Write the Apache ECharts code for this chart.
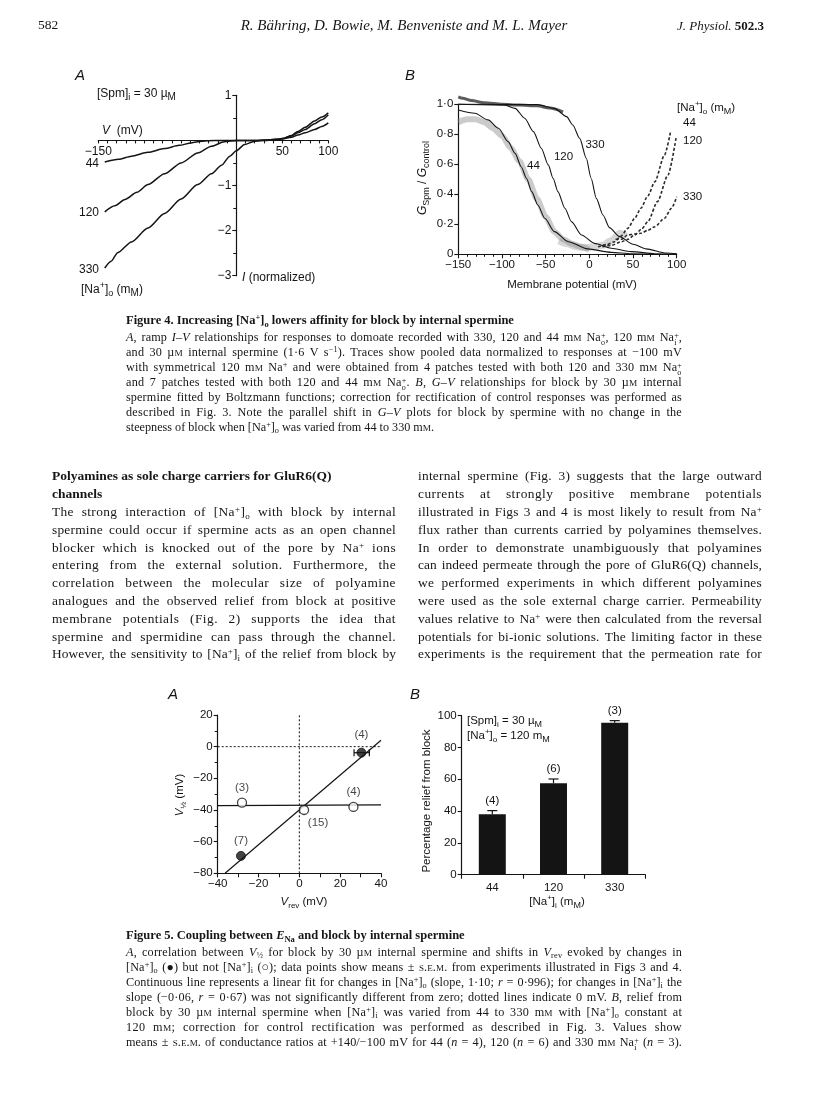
<!DOCTYPE html>
<html>
<head>
<meta charset="utf-8">
<script src="https://cdn.jsdelivr.net/npm/echarts@6.0.0/dist/echarts.min.js"></script>
<style>
html,body{margin:0;padding:0;background:#fff;}
#page{position:relative;width:816px;height:1110px;overflow:hidden;background:#fff;}
#chart{position:absolute;left:0;top:0;width:816px;height:1110px;}
#text{position:absolute;left:0;top:0;width:816px;height:1110px;}
.ln{position:absolute;white-space:nowrap;font-family:"Liberation Serif","Times New Roman",serif;color:#161616;}
.ln sup{font-size:0.68em;vertical-align:0.45em;line-height:0;}
.ln sub{font-size:0.68em;vertical-align:-0.3em;line-height:0;}
.ln .st{display:inline-block;font-size:0.66em;line-height:0.78em;vertical-align:-0.42em;}
.ln .st span{display:block;}
.ln .sc{font-size:0.76em;}
.ln .scs{font-variant:small-caps;}
</style>
</head>
<body>
<div id="page"><div id="chart"></div><div id="text"></div></div>
<script>
// ---------------- DATA ----------------
// Fig 4A: ramp I-V relationships, [V (mV), I (normalized)]
const ivNa44  = [[-143,-0.48],[-128,-0.42],[-114,-0.35],[-96,-0.265],[-78,-0.18],[-62,-0.11],[-49,-0.055],[-38,-0.02],[-31,-0.005],[-15,0],[0,0],[20,0],[35,0.01],[45,0.025],[52,0.05],[60,0.11],[67,0.20],[75,0.29],[85,0.43],[93,0.52],[100,0.61]];
const ivNa120 = [[-143,-1.585],[-132,-1.45],[-121,-1.31],[-108,-1.15],[-96,-0.98],[-78,-0.74],[-60,-0.50],[-42,-0.28],[-27,-0.13],[-13,-0.03],[0,0],[20,0],[35,0.01],[45,0.025],[52,0.05],[60,0.1],[67,0.17],[75,0.24],[85,0.37],[93,0.46],[100,0.57]];
const ivNa330 = [[-143,-2.83],[-136,-2.68],[-129,-2.49],[-114,-2.25],[-96,-1.94],[-78,-1.62],[-60,-1.30],[-42,-0.98],[-27,-0.74],[-16,-0.55],[-7,-0.35],[0,-0.23],[9,-0.09],[20,-0.02],[31,0],[40,0.01],[50,0.03],[60,0.07],[67,0.12],[75,0.17],[85,0.24],[93,0.31],[100,0.39]];
const ivLabels = ['44','120','330'];
const ivXRange = [-150, 100];
const ivYRange = [-3, 1];

// Fig 4B: Boltzmann fits, [V (mV), Gspm/Gcontrol]
const fitNa44  = [[-150,0.962],[-131,0.94],[-116,0.896],[-104,0.84],[-93,0.751],[-85,0.673],[-78,0.584],[-72,0.507],[-66,0.418],[-59,0.329],[-51,0.24],[-40,0.151],[-24,0.084],[-2,0.036],[25,0.013],[48,0.004],[70,0.001]];
const fitNa120 = [[-150,1.0],[-97,0.995],[-85,0.973],[-74,0.907],[-64,0.818],[-55,0.707],[-47,0.596],[-41.5,0.507],[-36,0.418],[-28,0.307],[-20.5,0.218],[-9,0.129],[6,0.073],[25,0.04],[48,0.018],[75,0.004],[100,0.001]];
const fitNa330 = [[-150,1.0],[-59,0.998],[-40,0.973],[-26,0.918],[-19,0.862],[-11,0.773],[-3.5,0.64],[2,0.507],[8,0.373],[15.6,0.262],[23,0.178],[34.6,0.118],[50,0.067],[65,0.036],[88,0.009],[100,0.004]];
const dataTop    = [[-150,1.05],[-145,1.04],[-135,1.025],[-120,1.01],[-100,1.0],[-80,0.995],[-60,0.99],[-45,0.975],[-30,0.95]];
const dataCloud44 = [[-150,0.88],[-140,0.9],[-130,0.9],[-120,0.88],[-110,0.84],[-100,0.79],[-90,0.71],[-80,0.62],[-70,0.5],[-60,0.37],[-50,0.25],[-40,0.15],[-30,0.1],[-20,0.07],[-10,0.05],[0,0.03]];
const dataCloudLow = [[-35,0.09],[-25,0.07],[-15,0.05],[-5,0.045],[5,0.05],[15,0.06],[25,0.09],[35,0.14],[42,0.12]];
const riseNa44  = [[10,0.05],[20,0.065],[29,0.084],[36,0.12],[44,0.173],[52,0.24],[59,0.307],[67,0.39],[75,0.484],[86,0.662],[93,0.818]];
const riseNa120 = [[15,0.05],[25,0.06],[37,0.084],[44,0.10],[52,0.129],[60,0.17],[67,0.218],[78,0.351],[90,0.529],[99.5,0.784]];
const riseNa330 = [[30,0.10],[37,0.10],[44,0.129],[52,0.135],[59,0.14],[67,0.16],[75,0.184],[86,0.24],[94,0.307],[100,0.384]];

// Fig 5A: V1/2 vs Vrev
const naOutPts = [[-28.6,-69.0],[30.4,-3.8]];          // filled circles, [Na+]o changed
const naOutN   = ['(7)','(4)'];
const naOutErr = [[30.4,-3.8,26.8,34.3]];              // [x, y, xLow, xHigh]
const naInPts  = [[-28.1,-35.4],[2.3,-40.0],[26.5,-38.1]]; // open circles, [Na+]i changed
const naInN    = ['(3)','(15)','(4)'];
const fitNaOut = [[-36.4,-80],[40,4.1]];
const fitNaIn  = [[-40,-37.3],[40,-36.8]];
const zeroVert = [[0,-80],[0,20]];
const zeroHorz = [[-40,0],[40,0]];

// Fig 5B: relief from block
const naInConc = ['44','120','330'];
const relief   = [38.0, 57.5, 95.6];
const reliefSem = [2.3, 2.7, 1.3];
const reliefN  = ['(4)','(6)','(3)'];

// ---------------- CHART ----------------
const SANS = '"Liberation Sans", Arial, Helvetica, sans-serif';
const INK = '#141414';
const minus = v => String(v).replace('-', '\u2212');

function richSet(size){
  const L = size + 5;
  const s = Math.round(size * 0.72);
  const m = Math.round(size * 0.8);
  const b = {fontFamily: SANS, fontSize: size, fill: INK, lineHeight: L};
  return {
    n: Object.assign({}, b),
    i: Object.assign({}, b, {fontStyle: 'italic'}),
    sup: {fontFamily: SANS, fontSize: s, fill: INK, verticalAlign: 'top', lineHeight: L - 0.6 * size},
    sub: {fontFamily: SANS, fontSize: s, fill: INK, verticalAlign: 'bottom', lineHeight: L - 0.5 * size},
    sm: {fontFamily: SANS, fontSize: m, fill: INK, verticalAlign: 'bottom', lineHeight: L - 0.7 * (size - m)}
  };
}
function txt(x, y, text, size, extra){
  return {
    type: 'text', x: x, y: y, silent: true,
    style: Object.assign({text: text, fontFamily: SANS, fontSize: size, fill: INK,
      lineHeight: size + 5, align: 'left', verticalAlign: 'middle', rich: richSet(size)}, extra || {})
  };
}

const axisLineStyle = {color: INK, width: 1.2};
function valueAxis(gi, min, max, interval, o){
  o = o || {};
  const ax = {
    type: 'value', gridIndex: gi, min: min, max: max, interval: interval,
    axisLine: {show: true, onZero: false, lineStyle: axisLineStyle},
    axisTick: {show: true, length: o.tickLen || 4, inside: false, lineStyle: {color: INK, width: 1.1}},
    minorTick: o.minor ? {show: true, splitNumber: o.minor, length: o.minorLen || 3, lineStyle: {color: INK, width: 1}} : {show: false},
    splitLine: {show: false}, minorSplitLine: {show: false},
    axisLabel: {show: true, color: INK, fontFamily: SANS, fontSize: o.fontSize || 11, margin: o.margin || 5,
      showMinLabel: true, showMaxLabel: true, hideOverlap: false, formatter: o.fmt || minus}
  };
  if (o.position) ax.position = o.position;
  if (o.offset !== undefined) ax.offset = o.offset;
  return ax;
}

const grids = [
  {left: 98.3, top: 95.3, width: 230, height: 180.4},   // 4A
  {left: 458.3, top: 104.3, width: 218.4, height: 150}, // 4B
  {left: 217.7, top: 715, width: 163.3, height: 158.3}, // 5A
  {left: 461.7, top: 715.7, width: 183.6, height: 159}  // 5B
].map(g => Object.assign({outerBoundsMode: 'none', containLabel: false, show: false}, g));

// Fig 4A axes cross at (0, 0): shift each axis from the grid edge to the other axis' zero
const ivYAxisShift = -((0 - ivXRange[0]) / (ivXRange[1] - ivXRange[0])) * grids[0].width;
const ivXAxisShift = -((0 - ivYRange[0]) / (ivYRange[1] - ivYRange[0])) * grids[0].height;

const xAxes = [
  valueAxis(0, ivXRange[0], ivXRange[1], 10, {position: 'bottom', offset: ivXAxisShift, tickLen: 3, fontSize: 12,
    fmt: v => ([-150, 50, 100].indexOf(v) >= 0 ? minus(v) : '')}),
  valueAxis(1, -150, 100, 50, {minor: 5, minorLen: 2.5, tickLen: 4, fontSize: 11.5}),
  valueAxis(2, -40, 40, 20, {minor: 2, minorLen: 4, tickLen: 4, fontSize: 11.5}),
  {type: 'category', gridIndex: 3, data: naInConc, boundaryGap: true,
    axisLine: {show: true, onZero: false, lineStyle: axisLineStyle},
    axisTick: {show: true, alignWithLabel: false, length: 4, lineStyle: {color: INK, width: 1.1}},
    axisLabel: {color: INK, fontFamily: SANS, fontSize: 11.5, margin: 7}}
];
const yAxes = [
  valueAxis(0, ivYRange[0], ivYRange[1], 1, {position: 'left', offset: ivYAxisShift, minor: 2, minorLen: 3, tickLen: 4, fontSize: 12,
    fmt: v => (v === 0 ? '' : minus(v))}),
  valueAxis(1, 0, 1, 0.2, {tickLen: 4, fontSize: 11.5,
    fmt: v => (Math.abs(v) < 1e-9 ? '0' : v.toFixed(1).replace('.', '\u00B7'))}),
  valueAxis(2, -80, 20, 20, {minor: 2, minorLen: 3, tickLen: 4, fontSize: 11.5}),
  valueAxis(3, 0, 100, 20, {tickLen: 4, fontSize: 11.5})
];

function line(gi, data, style, extra){
  return Object.assign({type: 'line', xAxisIndex: gi, yAxisIndex: gi, data: data, symbol: 'none',
    showSymbol: false, clip: false, silent: true, smooth: 0.25, smoothMonotone: 'x',
    lineStyle: Object.assign({color: INK, width: 1.2}, style)}, extra || {});
}

const series = [];
// 4A
[ivNa44, ivNa120, ivNa330].forEach(d => series.push(line(0, d, {width: 1.5})));
// 4B clouds, data traces, fits
series.push(line(1, dataCloud44, {color: '#8c8c8c', width: 6, opacity: 0.45}));
series.push(line(1, dataCloudLow, {color: '#8c8c8c', width: 7, opacity: 0.35}));
series.push(line(1, dataTop, {color: '#333', width: 3, opacity: 0.8}));
[riseNa44, riseNa120, riseNa330].forEach(d => series.push(line(1, d, {color: '#2a2a2a', width: 1.6, type: [3, 2]})));
[fitNa44, fitNa120, fitNa330].forEach(d => series.push(line(1, d, {width: 1.1})));
// 5A dotted zero lines and fits
series.push(line(2, zeroVert, {width: 1, type: [2, 2]}, {smooth: false}));
series.push(line(2, zeroHorz, {width: 1, type: [2, 2]}, {smooth: false}));
series.push(line(2, fitNaOut, {width: 1.2}, {smooth: false}));
series.push(line(2, fitNaIn, {width: 1.2}, {smooth: false}));
// 5A error bar (horizontal)
series.push({
  type: 'custom', xAxisIndex: 2, yAxisIndex: 2, data: naOutErr, silent: true, z: 3,
  renderItem: function(p, api){
    const y = api.value(1);
    const a = api.coord([api.value(2), y]), b = api.coord([api.value(3), y]);
    const st = {stroke: INK, lineWidth: 1.2};
    return {type: 'group', children: [
      {type: 'line', shape: {x1: a[0], y1: a[1], x2: b[0], y2: b[1]}, style: st},
      {type: 'line', shape: {x1: a[0], y1: a[1] - 3.5, x2: a[0], y2: a[1] + 3.5}, style: st},
      {type: 'line', shape: {x1: b[0], y1: b[1] - 3.5, x2: b[0], y2: b[1] + 3.5}, style: st}
    ]};
  }
});
const nLabel = (txtArr, idx, dist, pos, off) => ({show: true, formatter: () => txtArr[idx],
  position: pos || 'top', distance: dist, offset: off || [0, 0], color: INK, fontFamily: SANS, fontSize: 11.5});
series.push({
  type: 'scatter', xAxisIndex: 2, yAxisIndex: 2, symbol: 'circle', symbolSize: 9, z: 5, silent: true,
  itemStyle: {color: INK, borderColor: INK, borderWidth: 1},
  data: naOutPts.map((p, i) => ({value: p, label: nLabel(naOutN, i, i === 1 ? 7 : 4)}))
});
series.push({
  type: 'scatter', xAxisIndex: 2, yAxisIndex: 2, symbol: 'circle', symbolSize: 9, z: 5, silent: true,
  itemStyle: {color: '#fff', borderColor: INK, borderWidth: 1.3},
  data: naInPts.map((p, i) => ({value: p, label: i === 1 ? nLabel(naInN, i, 3, 'bottom', [14, -1]) : nLabel(naInN, i, 4)}))
});
// 5B bars + error bars with n labels
series.push({
  type: 'bar', xAxisIndex: 3, yAxisIndex: 3, data: relief, barWidth: 27, silent: true,
  itemStyle: {color: INK}
});
series.push({
  type: 'custom', xAxisIndex: 3, yAxisIndex: 3, silent: true, z: 4,
  data: relief.map((v, i) => [i, v, v + reliefSem[i]]),
  renderItem: function(p, api){
    const a = api.coord([api.value(0), api.value(1)]);
    const b = api.coord([api.value(0), api.value(2)]);
    const st = {stroke: INK, lineWidth: 1.2};
    return {type: 'group', children: [
      {type: 'line', shape: {x1: a[0], y1: a[1], x2: b[0], y2: b[1]}, style: st},
      {type: 'line', shape: {x1: b[0] - 5, y1: b[1], x2: b[0] + 5, y2: b[1]}, style: st},
      {type: 'text', style: {x: b[0], y: b[1] - 10, text: reliefN[p.dataIndex], align: 'center',
        verticalAlign: 'middle', fontFamily: SANS, fontSize: 11.5, fill: INK}}
    ]};
  }
});

const graphics = [
  // 4A
  txt(75, 76, 'A', 15, {fontStyle: 'italic'}),
  txt(97, 94, '[Spm]{sub|i} = 30 µ{sm|M}', 12),
  txt(102, 131, '{i|V}  (mV)', 12),
  txt(99, 164, ivLabels[0], 12, {align: 'right'}),
  txt(99, 213, ivLabels[1], 12, {align: 'right'}),
  txt(99, 270, ivLabels[2], 12, {align: 'right'}),
  txt(81, 290, '[Na{sup|+}]{sub|o} (m{sm|M})', 12),
  txt(242, 278, '{i|I} (normalized)', 12),
  // 4B
  txt(405, 76, 'B', 15, {fontStyle: 'italic'}),
  {type: 'text', x: 423, y: 178, rotation: Math.PI / 2, silent: true,
    style: {text: '{i|G}{sub|Spm}{n| / }{i|G}{sub|control}', fontFamily: SANS, fontSize: 12, fill: INK,
      align: 'center', verticalAlign: 'middle', lineHeight: 17, rich: richSet(12)}},
  txt(572, 285, 'Membrane potential (mV)', 11.5, {align: 'center'}),
  txt(677, 108, '[Na{sup|+}]{sub|o} (m{sm|M})', 11.5),
  txt(683, 123, ivLabels[0], 11.5),
  txt(683, 141, ivLabels[1], 11.5),
  txt(683, 197, ivLabels[2], 11.5),
  txt(595, 145, ivLabels[2], 11.5, {align: 'center'}),
  txt(563.5, 157, ivLabels[1], 11.5, {align: 'center'}),
  txt(533.5, 166, ivLabels[0], 11.5, {align: 'center'}),
  // 5A
  txt(168, 695, 'A', 15, {fontStyle: 'italic'}),
  {type: 'text', x: 180, y: 795, rotation: Math.PI / 2, silent: true,
    style: {text: '{i|V}{sub|½} (mV)', fontFamily: SANS, fontSize: 11.5, fill: INK,
      align: 'center', verticalAlign: 'middle', lineHeight: 16.5, rich: richSet(11.5)}},
  txt(304, 902, '{i|V}{sub|rev} (mV)', 11.5, {align: 'center'}),
  // 5B
  txt(410, 695, 'B', 15, {fontStyle: 'italic'}),
  {type: 'text', x: 427, y: 801, rotation: Math.PI / 2, silent: true,
    style: {text: 'Percentage relief from block', fontFamily: SANS, fontSize: 11.5, fill: INK,
      align: 'center', verticalAlign: 'middle'}},
  txt(557, 902, '[Na{sup|+}]{sub|i} (m{sm|M})', 11.5, {align: 'center'}),
  txt(467, 721, '[Spm]{sub|i} = 30 µ{sm|M}', 11.5),
  txt(467, 736, '[Na{sup|+}]{sub|o} = 120 m{sm|M}', 11.5)
];

const chart = echarts.init(document.getElementById('chart'), null, {renderer: 'canvas', width: 816, height: 1110});
chart.setOption({
  animation: false,
  backgroundColor: '#fff',
  grid: grids,
  xAxis: xAxes,
  yAxis: yAxes,
  series: series,
  graphic: {elements: graphics}
});

// ---------------- PAGE TEXT ----------------
const root = document.getElementById('text');
const ST = (a, b) => '<span class="st"><span>' + a + '</span><span>' + b + '</span></span>';
const mM = 'm<span class="sc">M</span>';
const uM = 'µ<span class="sc">M</span>';
const NaO = '[Na<sup>+</sup>]<sub>o</sub>';
const NaI = '[Na<sup>+</sup>]<sub>i</sub>';

function fit(el, width, justify){
  const w = el.getBoundingClientRect().width;
  if (w > width) {
    el.style.transformOrigin = '0 50%';
    el.style.transform = 'scaleX(' + (width / w) + ')';
    return;
  }
  if (!justify) return;
  const t = el.textContent;
  const spaces = (t.match(/ /g) || []).length;
  const ls = Math.min((width - w) * 0.35 / t.length, 0.45);
  el.style.letterSpacing = ls + 'px';
  const w2 = el.getBoundingClientRect().width;
  if (spaces > 0) el.style.wordSpacing = ((width - w2) / spaces) + 'px';
}
function addLine(html, x, y, size, o){
  o = o || {};
  const d = document.createElement('div');
  d.className = 'ln';
  d.innerHTML = html;
  d.style.fontSize = size + 'px';
  d.style.lineHeight = Math.round(size * 1.2) + 'px';
  d.style.top = (y - size * 0.72) + 'px';
  d.style.left = x + 'px';
  if (o.bold) d.style.fontWeight = 'bold';
  if (o.italic) d.style.fontStyle = 'italic';
  root.appendChild(d);
  if (o.width) fit(d, o.width, o.justify);
  const w = d.getBoundingClientRect().width;
  if (o.align === 'center') d.style.left = (x - w / 2) + 'px';
  if (o.align === 'right') d.style.left = (x - w) + 'px';
  return d;
}
function block(lines, x, y0, step, width, size, justifyLast){
  lines.forEach((h, i) => addLine(h, x, y0 + i * step, size,
    {width: width, justify: justifyLast || i < lines.length - 1}));
}

// page geometry
const bodyLeft = 52, bodyRight = 762, colGap = 22;
const colW = (bodyRight - bodyLeft - colGap) / 2;
const capLeft = 126, capW = 556;
const bodyTop = 478, bodyStep = 17.8;
const capStep = 15;

// header
addLine('582', 38, 27, 13.5);
addLine('R. Bähring, D. Bowie, M. Benveniste and M. L. Mayer', 404, 27, 15, {italic: true, align: 'center'});
addLine('<i>J. Physiol.</i> <b>502.3</b>', 764, 27, 13, {align: 'right'});

// Figure 4 caption
addLine('Figure 4. Increasing ' + NaO + ' lowers affinity for block by internal spermine', capLeft, 322, 12.5, {bold: true});
block([
  '<i>A</i>, ramp <i>I–V</i> relationships for responses to domoate recorded with 330, 120 and 44 ' + mM + ' Na' + ST('+', 'o') + ', 120 ' + mM + ' Na' + ST('+', 'i') + ',',
  'and 30 ' + uM + ' internal spermine (1·6 V s<sup>−1</sup>). Traces show pooled data normalized to responses at −100 mV',
  'with symmetrical 120 ' + mM + ' Na<sup>+</sup> and were obtained from 4 patches tested with both 120 and 330 ' + mM + ' Na' + ST('+', 'o'),
  'and 7 patches tested with both 120 and 44 ' + mM + ' Na' + ST('+', 'o') + '. <i>B</i>, <i>G–V</i> relationships for block by 30 ' + uM + ' internal',
  'spermine fitted by Boltzmann functions; correction for rectification of control responses was performed as',
  'described in Fig. 3. Note the parallel shift in <i>G–V</i> plots for block by spermine with no change in the',
  'steepness of block when ' + NaO + ' was varied from 44 to 330 ' + mM + '.'
], capLeft, 339, capStep, capW, 12.2, false);

// Section heading (first two lines of the left column)
addLine('Polyamines as sole charge carriers for GluR6(Q)', bodyLeft, bodyTop, 13.5, {bold: true});
addLine('channels', bodyLeft, bodyTop + bodyStep, 13.5, {bold: true});

// Body text, left column
block([
  'The strong interaction of ' + NaO + ' with block by internal',
  'spermine could occur if spermine acts as an open channel',
  'blocker which is knocked out of the pore by Na<sup>+</sup> ions',
  'entering from the external solution. Furthermore, the',
  'correlation between the molecular size of polyamine',
  'analogues and the observed relief from block at positive',
  'membrane potentials (Fig. 2) supports the idea that',
  'spermine and spermidine can pass through the channel.',
  'However, the sensitivity to ' + NaI + ' of the relief from block by'
], bodyLeft, bodyTop + 2 * bodyStep, bodyStep, colW, 13.4, true);

// Body text, right column
block([
  'internal spermine (Fig. 3) suggests that the large outward',
  'currents at strongly positive membrane potentials',
  'illustrated in Figs 3 and 4 is most likely to result from Na<sup>+</sup>',
  'flux rather than currents carried by polyamines themselves.',
  'In order to demonstrate unambiguously that polyamines',
  'can indeed permeate through the pore of GluR6(Q) channels,',
  'we performed experiments in which different polyamines',
  'were used as the sole external charge carrier. Permeability',
  'values relative to Na<sup>+</sup> were then calculated from the reversal',
  'potentials for bi-ionic solutions. The limiting factor in these',
  'experiments is the requirement that the permeation rate for'
], bodyLeft + colW + colGap, bodyTop, bodyStep, colW, 13.4, true);

// Figure 5 caption
addLine('Figure 5. Coupling between <i>E</i><sub>Na</sub> and block by internal spermine', capLeft, 937, 12.5, {bold: true});
block([
  '<i>A</i>, correlation between <i>V</i><sub>½</sub> for block by 30 ' + uM + ' internal spermine and shifts in <i>V</i><sub>rev</sub> evoked by changes in',
  NaO + ' (●) but not ' + NaI + ' (○); data points show means ± <span class="scs">s.e.m.</span> from experiments illustrated in Figs 3 and 4.',
  'Continuous line represents a linear fit for changes in ' + NaO + ' (slope, 1·10; <i>r</i> = 0·996); for changes in ' + NaI + ' the',
  'slope (−0·06, <i>r</i> = 0·67) was not significantly different from zero; dotted lines indicate 0 mV. <i>B</i>, relief from',
  'block by 30 ' + uM + ' internal spermine when ' + NaI + ' was varied from 44 to 330 ' + mM + ' with ' + NaO + ' constant at',
  '120 ' + mM + '; correction for control rectification was performed as described in Fig. 3. Values show',
  'means ± <span class="scs">s.e.m.</span> of conductance ratios at +140/−100 mV for 44 (<i>n</i> = 4), 120 (<i>n</i> = 6) and 330 ' + mM + ' Na' + ST('+', 'i') + ' (<i>n</i> = 3).'
], capLeft, 954, capStep, capW, 12.2, true);
</script>
</body>
</html>
